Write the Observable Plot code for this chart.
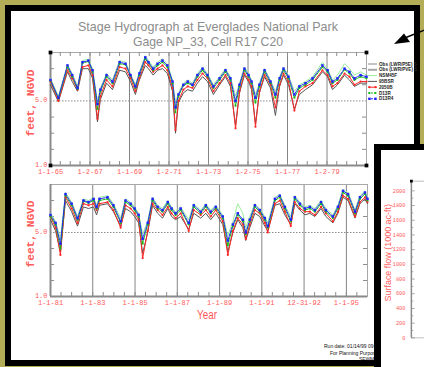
<!DOCTYPE html>
<html><head><meta charset="utf-8">
<script src="https://cdn.jsdelivr.net/npm/d3@7"></script>
<script src="https://cdn.jsdelivr.net/npm/@observablehq/plot@0.6"></script>
<style>
html,body{margin:0;padding:0;}
body{width:424px;height:367px;overflow:hidden;background:#b3ad57;position:relative;font-family:"Liberation Sans",sans-serif;}
#frame{position:absolute;left:5px;top:5px;width:403px;height:349px;border:6px solid #000;background:#fff;}
#ov{position:absolute;left:0;top:0;}
#panel2{position:absolute;left:374px;top:144px;width:60px;height:260px;border-left:7px solid #000;border-top:6px solid #000;background:#fff;overflow:hidden;}
</style></head><body>
<div id="frame"></div>
<svg id="ov" width="424" height="367"></svg>
<div id="panel2"></div>
<script>
// ---------- data ----------
const titleLines = ["Stage Hydrograph at Everglades National Park", "Gage NP_33, Cell R17 C20"];
const yLabel = "feet, NGVD";
const xLabel = "Year";
const flowLabel = "Surface flow (1000 ac-ft)";
const runLines = ["Run date: 01/14/99 09:23:15", "For Planning Purposes Only", "SFWMM v3.5"];

const seriesNames = ["95BSR", "NSM45F", "2050B", "D13R", "D13R4"];
const seriesColors = ["#555555", "#9aee9a", "#ff2626", "#11bb11", "#2222ff"];
const legendLabels = ["Obs (LWR/P5E) S", "Obs (LWR/PVE) S", "NSM45F", "95BSR", "2050B", "D13R", "D13R4"];
const legendColors = ["#c4c4c4", "#a8a8a8", "#9aee9a", "#555555", "#ff2626", "#11bb11", "#2222ff"];

const tickDates1 = ["1965-01-01","1967-01-02","1969-01-01","1971-01-02","1973-01-01","1975-01-02","1977-01-01","1979-01-02"];
const tickLabels1 = ["1-1-65","1-2-67","1-1-69","1-2-71","1-1-73","1-2-75","1-1-77","1-2-79"];
const tickDates2 = ["1981-01-01","1983-01-01","1985-01-01","1987-01-01","1989-01-01","1991-01-01","1992-12-31","1995-01-01"];
const tickLabels2 = ["1-1-81","1-1-83","1-1-85","1-1-87","1-1-89","1-1-91","12-31-92","1-1-95"];
const stageTicks = [1, 5];
const stageMinor = [2, 3, 4, 6, 7];
const flowTicks = [0, 200, 400, 600, 800, 1000, 1200, 1400, 1600, 1800, 2000];

// panel 1 (1965-1980), decimal years
const dates1 = [1965.00,1965.40,1965.86,1966.10,1966.37,1966.62,1966.92,1967.13,1967.38,1967.53,1967.84,1968.14,1968.50,1968.80,1969.05,1969.30,1969.50,1969.80,1969.96,1970.20,1970.42,1970.67,1970.92,1971.18,1971.33,1971.48,1971.73,1971.95,1972.19,1972.44,1972.70,1972.95,1973.25,1973.56,1973.86,1974.11,1974.37,1974.57,1974.82,1975.03,1975.18,1975.38,1975.58,1975.84,1976.14,1976.39,1976.60,1976.80,1977.05,1977.35,1977.60,1977.91,1978.27,1978.77,1979.03,1979.28,1979.53,1979.89,1980.14,1980.39,1980.70,1981.00];
const p1_95BSR = [6.0,4.95,6.8,6.2,5.6,7.0,7.0,6.4,3.7,5.1, 6.1,5.7,6.9,6.8,6.2,5.4,6.3,7.2,7.0,6.6, 6.9,7.0,6.7,5.6,3.0,4.9,5.5,5.7,5.6,6.1, 6.5,6.2,5.4,6.0,6.5,5.9,3.5,5.5,6.6,6.2, 5.7,3.6,5.5,6.5,5.8,4.1,5.9,6.6,6.0,4.5, 5.4,5.7,6.0,6.8,6.5,5.7,6.0,6.6,6.3,5.9, 6.1,6.1];
const p1_NSM45F = [6.4,5.3,7.25,6.7,5.9,7.5,7.6,7.0,5.0,5.8, 6.7,6.3,7.5,7.4,6.7,6.0,6.8,7.8,7.5,7.1, 7.4,7.6,7.3,6.3,4.9,5.5,6.1,6.3,6.1,6.7, 7.1,6.7,6.0,6.5,7.0,6.5,5.3,6.1,7.1,6.7, 6.3,5.4,6.1,7.0,6.3,5.6,6.5,7.1,6.6,5.6, 6.0,6.2,6.5,7.4,7.0,6.3,6.6,7.3,7.0,6.6, 6.8,6.6];
const p1_2050B = [6.2,5.0,6.9,6.4,5.7,7.1,7.2,6.6,3.9,5.3, 6.3,5.9,7.1,7.0,6.4,5.6,6.4,7.4,7.2,6.8, 7.0,7.2,6.9,5.8,3.2,5.0,5.7,5.9,5.8,6.3, 6.7,6.4,5.6,6.1,6.6,6.1,3.3,5.6,6.7,6.3, 5.9,3.4,5.6,6.6,6.0,4.6,6.0,6.7,6.2,4.4, 5.6,5.9,6.1,6.9,6.6,5.9,6.1,6.7,6.5,6.0, 6.2,6.2];
const p1_D13R = [6.25,5.15,7.1,6.5,5.75,7.35,7.45,6.8,4.5,5.6, 6.5,6.1,7.3,7.25,6.55,5.8,6.6,7.6,7.35,6.9, 7.2,7.4,7.1,6.1,4.3,5.3,5.95,6.1,5.95,6.5, 6.9,6.5,5.8,6.3,6.8,6.3,4.7,5.9,6.9,6.5, 6.1,4.9,5.9,6.8,6.1,5.2,6.3,6.9,6.4,5.2, 5.8,6.0,6.3,7.1,6.8,6.1,6.3,6.95,6.7,6.3, 6.5,6.4];
const p1_D13R4 = [6.3,5.2,7.2,6.6,5.8,7.4,7.5,6.9,4.8,5.7, 6.6,6.2,7.4,7.3,6.6,5.9,6.7,7.7,7.4,7.0, 7.3,7.5,7.2,6.2,4.6,5.4,6.0,6.2,6.0,6.6, 7.0,6.6,5.9,6.4,6.9,6.4,5.0,6.0,7.0,6.6, 6.2,5.2,6.0,6.9,6.2,5.4,6.4,7.0,6.5,5.4, 5.9,6.1,6.4,7.2,6.9,6.2,6.4,7.0,6.8,6.4, 6.6,6.5];

// panel 2 (1981-1995), decimal years
const dates2 = [1981.00,1981.24,1981.47,1981.71,1982.00,1982.28,1982.56,1982.80,1983.04,1983.18,1983.32,1983.70,1983.98,1984.32,1984.55,1984.79,1984.98,1985.17,1985.36,1985.60,1985.83,1986.07,1986.30,1986.55,1986.73,1986.92,1987.16,1987.54,1987.78,1988.11,1988.35,1988.58,1988.82,1989.15,1989.39,1989.63,1989.86,1990.10,1990.24,1990.43,1990.67,1990.90,1991.14,1991.28,1991.62,1991.85,1992.09,1992.37,1992.56,1992.80,1993.04,1993.27,1993.51,1993.80,1994.03,1994.36,1994.60,1994.84,1995.08,1995.41,1995.64,1995.88,1996.00];
const p2_95BSR = [5.8,5.1,3.8,7.0,6.3,5.4,6.6,6.5,6.6,6.1, 6.7,6.8,6.3,5.4,6.5,6.3,6.0,5.6,3.7,5.0, 6.7,6.2,5.9,6.5,6.0,5.8,6.0,5.2,6.2,5.9, 6.2,5.8,6.2,5.5,3.8,5.0,5.8,5.3,4.5,5.3, 6.2,6.0,5.4,5.1,6.7,6.8,6.1,5.5,6.8,6.4, 6.1,6.2,6.0,6.5,6.0,5.6,6.2,7.2,7.0,5.9, 6.8,7.1,6.8];
const p2_NSM45F = [6.2,5.7,4.6,7.5,6.9,6.0,7.1,7.0,7.2,6.7, 7.2,7.3,6.8,5.9,7.1,6.9,6.6,6.2,4.9,5.7, 7.2,6.7,6.5,7.0,6.6,6.3,6.6,5.8,6.8,6.4, 6.8,6.4,6.7,6.1,4.8,5.7,6.8,6.2,5.3,6.0, 6.8,6.5,6.0,5.6,7.2,7.4,6.7,6.0,7.3,6.9, 6.6,6.7,6.5,7.0,6.5,6.1,6.7,7.7,7.5,6.4, 7.3,7.6,7.2];
const p2_2050B = [6.0,5.3,3.6,7.2,6.5,5.6,6.8,6.7,6.8,6.4, 6.8,6.9,6.4,5.3,6.7,6.5,6.2,5.8,3.4,5.1, 6.8,6.4,6.1,6.6,6.2,5.9,6.2,5.1,6.4,6.1, 6.4,6.0,6.4,5.7,3.6,5.1,5.9,5.5,4.6,5.5, 6.4,6.2,5.6,5.0,6.8,7.0,6.3,5.4,6.9,6.5, 6.3,6.3,6.1,6.6,6.2,5.7,6.3,7.3,7.1,6.0, 6.9,7.2,6.9];
const p2_D13R = [6.0,5.5,4.0,7.3,6.7,5.8,6.95,6.85,7.0,6.5, 7.0,7.1,6.6,5.6,6.9,6.7,6.4,6.0,4.3,5.5, 7.0,6.5,6.3,6.8,6.4,6.1,6.4,5.5,6.6,6.2, 6.6,6.2,6.5,5.9,4.2,5.4,6.1,5.7,4.9,5.7, 6.6,6.3,5.8,5.3,7.0,7.2,6.5,5.7,7.1,6.7, 6.4,6.5,6.3,6.8,6.3,5.9,6.5,7.5,7.3,6.2, 7.1,7.4,7.0];
const p2_D13R4 = [6.1,5.6,4.3,7.4,6.8,5.9,7.0,6.9,7.1,6.6, 7.1,7.2,6.7,5.7,7.0,6.8,6.5,6.1,4.6,5.6, 7.1,6.6,6.4,6.9,6.5,6.2,6.5,5.6,6.7,6.3, 6.7,6.3,6.6,6.0,4.5,5.5,6.2,5.8,5.0,5.8, 6.7,6.4,5.9,5.4,7.1,7.3,6.6,5.8,7.2,6.8, 6.5,6.6,6.4,6.9,6.4,6.0,6.6,7.6,7.4,6.3, 7.2,7.5,7.1];

// ---------- helpers ----------
const RED_TXT = "#ff5a5a";
const GRID = "#858585";
const toDate = y => { const yr = Math.floor(y + 1e-9); const s = Date.UTC(yr,0,1), e = Date.UTC(yr+1,0,1); return new Date(s + (y - yr) * (e - s)); };
const iso = s => new Date(s + "T00:00:00Z");

function buildRows(dates, arrays) {
  const out = [];
  seriesNames.forEach((n, k) => dates.forEach((d, i) => out.push({date: toDate(d), value: arrays[k][i], series: n})));
  return out;
}

function hydro({dates, arrays, x0, x1, tickDates, tickLabels, top, frameH, topTicks, corners, padBottom}) {
  const data = buildRows(dates, arrays);
  const mL = 50, mT = 12, mB = 15, W = 424;
  const fw = (x1 === "1981-01-01" ? 316 : 317);
  const mR = W - mL - fw;
  const d0 = iso(x0), d1 = iso(x1);
  const td = tickDates.map(iso);
  const labelMap = new Map(td.map((d, i) => [+d, tickLabels[i]]));
  const minor = d3.utcMonth.every(6).range(d0, d1).slice(1);
  const marks = [
    Plot.ruleX(td.slice(1), {stroke: GRID, strokeWidth: 1}),
    Plot.ruleY([5], {stroke: "#8d8d8d", strokeDasharray: "1.5,1.5"}),
    Plot.tickX(minor, {stroke: "#8d8d8d", insetTop: frameH - 4}),
    Plot.tickY(stageMinor, {stroke: "#8d8d8d", insetRight: fw - 4}),
    Plot.tickY(stageMinor, {stroke: "#8d8d8d", insetLeft: fw - 4}),
    Plot.frame({stroke: "#a8a8a8"}),
    Plot.ruleY([1], {stroke: "#8a8a8a", strokeWidth: 2}),
    Plot.ruleX([d0], {stroke: "#8a8a8a", strokeWidth: 2})
  ];
  if (topTicks) marks.push(Plot.tickX(minor, {stroke: "#8d8d8d", insetBottom: frameH - 4}));
  seriesNames.forEach((n, k) => {
    const dash = (n === "D13R" || n === "D13R4") ? "2.5,1" : null;
    marks.push(Plot.line(data, {filter: d => d.series === n, x: "date", y: "value", stroke: seriesColors[k], strokeWidth: 1, strokeDasharray: dash}));
  });
  seriesNames.forEach((n, k) => {
    if (n === "2050B" || n === "D13R" || n === "D13R4") {
      marks.push(Plot.dot(data, {filter: d => d.series === n, x: "date", y: "value", fill: seriesColors[k], stroke: null, r: n === "D13R4" ? 1.4 : 1.1, symbol: n === "D13R4" ? "square" : "circle"}));
    }
  });
  marks.push(Plot.axisX(td, {tickFormat: d => labelMap.get(+d), tickSize: 0, tickPadding: padBottom, fill: RED_TXT, label: null}));
  marks.push(Plot.axisY(stageTicks, {tickFormat: d3.format(".1f"), tickSize: 0, tickPadding: 3, fill: RED_TXT, label: null, dy: -1}));
  if (corners) marks.push(Plot.dot([[d0, 8], [d0, 1], [d1, 8], [d1, 1]], {x: d => d[0], y: d => d[1], symbol: "square", r: 2.1, fill: "#000"}));
  const svg = Plot.plot({
    width: W, height: mT + frameH + mB,
    marginLeft: mL, marginRight: mR, marginTop: mT, marginBottom: mB,
    x: {type: "utc", domain: [d0, d1]},
    y: {domain: [1, 8]},
    style: {background: "transparent", fontFamily: "Liberation Mono, monospace", fontSize: "7px", overflow: "visible"},
    marks
  });
  svg.style.position = "absolute"; svg.style.left = "0px"; svg.style.top = top + "px";
  document.body.insertBefore(svg, document.getElementById("ov"));
}

hydro({dates: dates1, arrays: [p1_95BSR, p1_NSM45F, p1_2050B, p1_D13R, p1_D13R4], x0: "1965-01-01", x1: "1981-01-01", tickDates: tickDates1, tickLabels: tickLabels1, top: 40, frameH: 113, topTicks: true, corners: true, padBottom: 4});
hydro({dates: dates2, arrays: [p2_95BSR, p2_NSM45F, p2_2050B, p2_D13R, p2_D13R4], x0: "1981-01-01", x1: "1996-01-01", tickDates: tickDates2, tickLabels: tickLabels2, top: 172, frameH: 112, topTicks: false, corners: false, padBottom: 4});

// ---------- overlay texts ----------
const ov = d3.select("#ov");
ov.append("text").attr("x", 208).attr("y", 31).attr("text-anchor", "middle").attr("textLength", 260).attr("lengthAdjust", "spacingAndGlyphs")
  .attr("font-size", 13.5).attr("fill", "#8c8c8c").text(titleLines[0]);
ov.append("text").attr("x", 208).attr("y", 45.5).attr("text-anchor", "middle").attr("textLength", 150).attr("lengthAdjust", "spacingAndGlyphs")
  .attr("font-size", 13.5).attr("fill", "#8c8c8c").text(titleLines[1]);
[103, 234].forEach(cy => {
  ov.append("text").attr("transform", `translate(34,${cy}) rotate(-90)`).attr("text-anchor", "middle")
    .attr("textLength", 67).attr("lengthAdjust", "spacingAndGlyphs")
    .attr("font-family", "Liberation Mono, monospace").attr("font-weight", "bold").attr("font-size", 11).attr("fill", RED_TXT).text(yLabel);
});
ov.append("text").attr("x", 207).attr("y", 319).attr("text-anchor", "middle").attr("textLength", 20).attr("lengthAdjust", "spacingAndGlyphs")
  .attr("font-size", 12).attr("fill", RED_TXT).text(xLabel);
[[324, 348], [330, 354.5], [359, 361]].forEach(([x, y], i) => {
  ov.append("text").attr("x", x).attr("y", y).attr("font-size", 5).attr("fill", "#111").text(runLines[i]);
});
// legend
legendLabels.forEach((lab, i) => {
  const y = 64 + i * 5.8;
  const g = ov.append("g");
  const thick = i < 2 ? 2 : 1;
  g.append("line").attr("x1", 368).attr("x2", 377).attr("y1", y).attr("y2", y).attr("stroke", legendColors[i]).attr("stroke-width", thick)
    .attr("stroke-dasharray", i >= 5 ? "2,1" : null);
  if (i >= 4) {
    [369.5, 375.5].forEach(cx => {
      if (i === 6) g.append("rect").attr("x", cx - 1.2).attr("y", y - 1.2).attr("width", 2.4).attr("height", 2.4).attr("fill", legendColors[i]);
      else g.append("circle").attr("cx", cx).attr("cy", y).attr("r", 1.1).attr("fill", legendColors[i]);
    });
  }
  g.append("text").attr("x", 379).attr("y", y + 1.6).attr("font-size", 4.6).attr("font-weight", "bold").attr("fill", "#222").text(lab);
});
// arrow
ov.append("line").attr("x1", 406).attr("y1", 37.5).attr("x2", 426).attr("y2", 29.5).attr("stroke", "#000").attr("stroke-width", 1.5);
ov.append("path").attr("d", "M394,44 L404,33.5 L410,42 Z").attr("fill", "#000");

// ---------- second (flow) panel ----------
const flowMinor = d3.range(100, 2100, 200);
const flowPlot = Plot.plot({
  width: 80, height: 260, marginLeft: 40, marginRight: 0, marginTop: 41, marginBottom: 10,
  x: {domain: [0, 1], axis: null},
  y: {domain: [0, 2132]},
  style: {background: "transparent", fontFamily: "Liberation Mono, monospace", fontSize: "7px", overflow: "visible"},
  marks: [
    Plot.frame({stroke: "#a8a8a8"}),
    Plot.tickY(flowMinor, {stroke: "#8d8d8d", insetRight: 37}),
    Plot.tickY(flowTicks, {stroke: "#8d8d8d", insetRight: 35}),
    Plot.ruleX([0], {stroke: "#8a8a8a", strokeWidth: 2}),
    Plot.axisY(flowTicks, {tickSize: 0, tickPadding: 8, fill: RED_TXT, label: null, tickFormat: d3.format("d")}),
    Plot.dot([[0, 2132]], {x: d => d[0], y: d => d[1], symbol: "square", r: 2.1, fill: "#000"})
  ]
});
flowPlot.style.position = "absolute"; flowPlot.style.left = "0px"; flowPlot.style.top = "0px";
document.getElementById("panel2").appendChild(flowPlot);
d3.select(flowPlot).append("text").attr("transform", "translate(13,137) rotate(-90)").attr("text-anchor", "middle")
  .attr("textLength", 130).attr("lengthAdjust", "spacingAndGlyphs")
  .attr("font-family", "Liberation Sans, sans-serif").attr("font-size", 11).attr("fill", RED_TXT).text(flowLabel);
</script>
</body></html>
